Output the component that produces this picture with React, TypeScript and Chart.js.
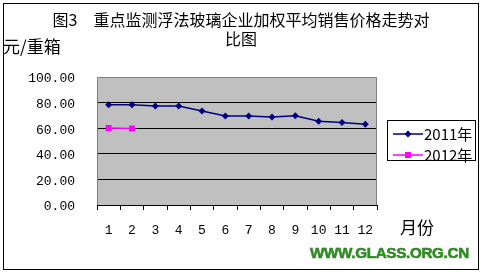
import React, { useEffect, useRef } from 'react';
import { Chart, registerables } from 'chart.js';

Chart.register(...registerables);

const months = ['1', '2', '3', '4', '5', '6', '7', '8', '9', '10', '11', '12'];
const series2011 = [78.4, 78.4, 77.3, 77.3, 73.4, 69.5, 69.5, 68.8, 69.7, 65.4, 64.4, 63.0];
const series2012: (number | null)[] = [60.2, 59.7, null, null, null, null, null, null, null, null, null, null];
const seriesNames = ['2011年', '2012年'];
const seriesColors = ['#000080', '#FF00FF'];
const yMin = 0;
const yMax = 100;
const yStep = 20;

const titleLine1 = '图3　重点监测浮法玻璃企业加权平均销售价格走势对';
const titleLine2 = '比图';
const yUnit = '元/重箱';
const xUnit = '月份';
const watermark = 'WWW.GLASS.ORG.CN';

const CJK = '"Noto Sans CJK SC", "Noto Sans", sans-serif';

const plotBg = {
  id: 'plotBg',
  beforeDraw(chart: any) {
    const { ctx, chartArea: a } = chart;
    ctx.save();
    ctx.fillStyle = '#C0C0C0';
    ctx.fillRect(a.left, a.top, a.right - a.left, a.bottom - a.top);
    ctx.restore();
  },
  beforeDatasetsDraw(chart: any) {
    const { ctx, chartArea: a } = chart;
    ctx.save();
    ctx.strokeStyle = '#808080';
    ctx.lineWidth = 1;
    ctx.beginPath();
    ctx.moveTo(Math.round(a.left) + 0.5, Math.round(a.bottom));
    ctx.lineTo(Math.round(a.left) + 0.5, Math.round(a.top) + 0.5);
    ctx.lineTo(Math.round(a.right) - 0.5, Math.round(a.top) + 0.5);
    ctx.lineTo(Math.round(a.right) - 0.5, Math.round(a.bottom));
    ctx.stroke();
    ctx.restore();
  },
};

function Marker({ color, style }: { color: string; style: 'diamond' | 'square' }) {
  return (
    <svg width={30} height={10} style={{ display: 'block' }}>
      <line x1={0} y1={5} x2={30} y2={5} stroke={color} strokeWidth={1.5} />
      {style === 'diamond' ? (
        <polygon points="15,1.5 18.5,5 15,8.5 11.5,5" fill={color} />
      ) : (
        <rect x={12} y={2} width={6} height={6} fill={color} />
      )}
    </svg>
  );
}

export default function App() {
  const ref = useRef<HTMLCanvasElement>(null);

  useEffect(() => {
    if (!ref.current) return;
    const chart = new Chart(ref.current, {
      type: 'line',
      data: {
        labels: months,
        datasets: [
          {
            label: seriesNames[0],
            data: series2011,
            borderColor: seriesColors[0],
            backgroundColor: seriesColors[0],
            borderWidth: 1.5,
            pointStyle: 'rectRot',
            pointRadius: 3.5,
            pointBorderWidth: 0,
            tension: 0,
          },
          {
            label: seriesNames[1],
            data: series2012,
            borderColor: seriesColors[1],
            backgroundColor: seriesColors[1],
            borderWidth: 1.5,
            pointStyle: 'rect',
            pointRadius: 4.2,
            pointBorderWidth: 0,
            tension: 0,
            spanGaps: false,
          },
        ],
      },
      options: {
        responsive: false,
        animation: false,
        layout: { padding: { top: 77, right: 106, left: 0, bottom: 41 } },
        plugins: {
          legend: { display: false },
          title: { display: false },
          tooltip: { enabled: false },
        },
        scales: {
          x: {
            type: 'category',
            offset: true,
            grid: {
              offset: true,
              drawOnChartArea: false,
              drawTicks: true,
              tickLength: 5,
              color: '#000000',
            },
            border: { display: true, color: '#000000', width: 1 },
            ticks: {
              color: '#000000',
              padding: 13,
              maxRotation: 0,
              autoSkip: false,
              font: { family: '"Liberation Mono", monospace', size: 13 },
            },
            afterFit(scale: any) {
              scale.height = 30;
            },
          },
          y: {
            min: yMin,
            max: yMax,
            grid: {
              drawTicks: false,
              color: (ctx: any) =>
                ctx.tick && (ctx.tick.value === yMin || ctx.tick.value === yMax) ? 'rgba(0,0,0,0)' : '#000000',
              lineWidth: 1,
            },
            border: { display: false },
            ticks: {
              stepSize: yStep,
              color: '#000000',
              padding: 22,
              labelOffset: 2,
              font: { family: '"Liberation Mono", monospace', size: 13 },
              callback: (v: any) => Number(v).toFixed(2),
            },
            afterFit(scale: any) {
              scale.width = 97;
            },
          },
        },
      },
      plugins: [plotBg],
    });
    return () => chart.destroy();
  }, []);

  return (
    <div style={{ position: 'fixed', left: 0, top: 0, width: 483, height: 276, background: '#fff', overflow: 'hidden' }}>
      <canvas ref={ref} width={483} height={276} style={{ position: 'absolute', left: 0, top: 0 }} />
      <div
        style={{
          position: 'absolute',
          left: 3,
          top: 3,
          width: 476,
          height: 267,
          border: '1px solid #000',
          boxSizing: 'border-box',
          pointerEvents: 'none',
        }}
      />
      <div
        style={{
          position: 'absolute',
          left: 0,
          width: 482,
          top: 10,
          textAlign: 'center',
          fontFamily: CJK,
          fontSize: 16,
          lineHeight: '19px',
          color: '#000',
          whiteSpace: 'nowrap',
        }}
      >
        <div>{titleLine1}</div>
        <div>{titleLine2}</div>
      </div>
      <div
        style={{
          position: 'absolute',
          left: 3,
          top: 36,
          fontFamily: CJK,
          fontSize: 17,
          lineHeight: '20px',
          color: '#000',
          whiteSpace: 'nowrap',
        }}
      >
        {yUnit}
      </div>
      <div
        style={{
          position: 'absolute',
          left: 400,
          top: 217,
          fontFamily: CJK,
          fontSize: 17,
          lineHeight: '20px',
          color: '#000',
          whiteSpace: 'nowrap',
        }}
      >
        {xUnit}
      </div>
      <div
        style={{
          position: 'absolute',
          left: 310,
          top: 244,
          fontFamily: '"Liberation Sans", Arial, sans-serif',
          fontWeight: 700,
          fontSize: 15.2,
          lineHeight: '18px',
          color: '#2E8B22',
          WebkitTextStroke: '0.6px #2E8B22',
          whiteSpace: 'nowrap',
          letterSpacing: '-0.3px',
        }}
      >
        {watermark}
      </div>
      <div
        style={{
          position: 'absolute',
          left: 387,
          top: 120,
          width: 89,
          height: 41,
          border: '1px solid #000',
          boxSizing: 'border-box',
          background: '#fff',
          fontFamily: CJK,
          fontSize: 15,
          color: '#000',
        }}
      >
        {seriesNames.map((name, i) => (
          <div
            key={name}
            style={{
              position: 'absolute',
              left: 5,
              top: i === 0 ? 3 : 24,
              height: 19,
              display: 'flex',
              alignItems: 'center',
              whiteSpace: 'nowrap',
              lineHeight: '19px',
            }}
          >
            <Marker color={seriesColors[i]} style={i === 0 ? 'diamond' : 'square'} />
            <span style={{ marginLeft: 1 }}>{name}</span>
          </div>
        ))}
      </div>
    </div>
  );
}
